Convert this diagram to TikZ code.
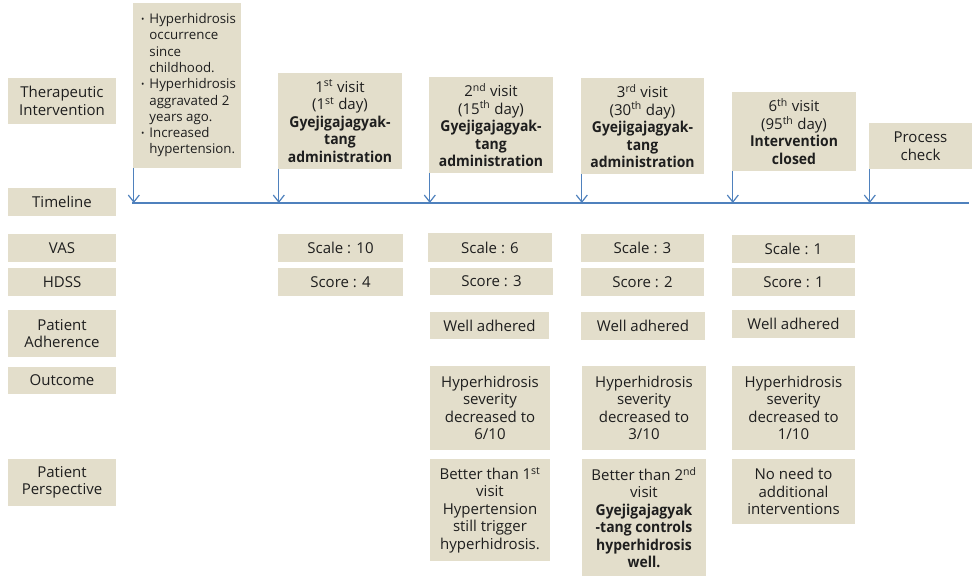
\documentclass[tikz,border=0pt]{standalone}
\usepackage{fontspec}
\setmainfont{Open Sans}[BoldFeatures={FakeStretch=0.93}]
\usetikzlibrary{arrows.meta}
\definecolor{bg}{HTML}{E3DECB}
\definecolor{ln}{HTML}{4F81BD}
\definecolor{tx}{HTML}{1E1E1E}
\newcommand\bx[6]{\node[box,minimum width={#4-#2},minimum height={#5-#3}] (#1) at ({(#2+#4)/2},{(#3+#5)/2}) {#6};}
\newcommand\sups[1]{\textsuperscript{#1}}
\newcommand\bul{{\fontsize{9}{9}\selectfont\raisebox{1pt}{•}}}
\begin{document}
\begin{tikzpicture}[x=1pt,y=-1pt,
  box/.style={fill=bg,inner sep=0pt,align=center,text=tx,font=\fontsize{15}{17.5}\selectfont},
  arr/.style={draw=ln,line width=1.2pt,-{Straight Barb[length=7pt,width=11pt]}},
  tline/.style={draw=ln,line width=1.5pt}]
\useasboundingbox (0,0) rectangle (974,576);
% left column
\bx{lti}{8}{78}{116}{124}{Therapeutic\\Intervention}
\bx{ltl}{8}{188}{116}{216}{Timeline}
\bx{lvas}{8}{234}{116}{262}{VAS}
\bx{lhd}{8}{268}{116}{296}{HDSS}
\bx{lad}{8}{310}{116}{357}{Patient\\Adherence}
\bx{lout}{8}{367}{116}{394}{Outcome}
\bx{lpp}{8}{459}{116}{506}{Patient\\Perspective}
% history
\bx{hist}{133}{3}{241}{168}{\fontsize{13.3}{16.3}\selectfont\hspace*{3pt}\begin{tabular}{@{}c@{\hspace{5pt}}l@{}}
\bul & Hyperhidrosis\\ & occurrence\\ & since\\ & childhood.\\
\bul & Hyperhidrosis\\ & aggravated 2\\ & years ago.\\
\bul & Increased\\ & hypertension.\end{tabular}}
% visits
\bx{v1}{278}{73}{402}{169}{1\sups{st} visit\\(1\sups{st} day)\\\textbf{Gyejigajagyak-}\\\textbf{tang}\\\textbf{administration}}
\bx{v2}{429}{77}{553}{173}{2\sups{nd} visit\\(15\sups{th} day)\\\textbf{Gyejigajagyak-}\\\textbf{tang}\\\textbf{administration}}
\bx{v3}{581}{78}{704}{174}{3\sups{rd} visit\\(30\sups{th} day)\\\textbf{Gyejigajagyak-}\\\textbf{tang}\\\textbf{administration}}
\bx{v6}{732}{92}{856}{171}{6\sups{th} visit\\(95\sups{th} day)\\\textbf{Intervention}\\\textbf{closed}}
\bx{pc}{869}{123}{972}{169}{Process\\check}
% timeline
\coordinate (tl0) at (132,203);
\coordinate (tl1) at (969,203);
\draw[tline] (tl0) -- (tl1);
\foreach \n in {hist,v1,v2,v3,v6,pc}{
  \path ([xshift=1pt]\n.south west) coordinate (a\n);
  \draw[arr] (a\n) -- (a\n |- tl0);
}
% VAS
\bx{s1}{278}{234}{403}{262}{Scale : 10}
\bx{s2}{428}{233}{552}{262}{Scale : 6}
\bx{s3}{581}{234}{704}{262}{Scale : 3}
\bx{s6}{732}{235}{855}{263}{Scale : 1}
% HDSS
\bx{h1}{278}{268}{403}{296}{Score : 4}
\bx{h2}{430}{268}{553}{295}{Score : 3}
\bx{h3}{581}{268}{704}{296}{Score : 2}
\bx{h6}{732}{268}{855}{296}{Score : 1}
% adherence
\bx{w2}{430}{312}{549}{339}{Well adhered}
\bx{w3}{581}{312}{705}{340}{Well adhered}
\bx{w6}{732}{310}{855}{338}{Well adhered}
% outcome
\bx{o2}{430}{366}{550}{450}{Hyperhidrosis\\severity\\decreased to\\6/10}
\bx{o3}{582}{366}{706}{450}{Hyperhidrosis\\severity\\decreased to\\3/10}
\bx{o6}{732}{366}{855}{450}{Hyperhidrosis\\severity\\decreased to\\1/10}
% perspective
\bx{p2}{430}{459}{550}{561}{Better than 1\sups{st}\\visit\\Hypertension\\still trigger\\hyperhidrosis.}
\bx{p3}{582}{459}{706}{576}{Better than 2\sups{nd}\\visit\\\textbf{Gyejigajagyak}\\\textbf{-tang controls}\\\textbf{hyperhidrosis}\\\textbf{well.}}
\bx{p6}{732}{459}{855}{524}{No need to\\additional\\interventions}
\end{tikzpicture}
\end{document}
